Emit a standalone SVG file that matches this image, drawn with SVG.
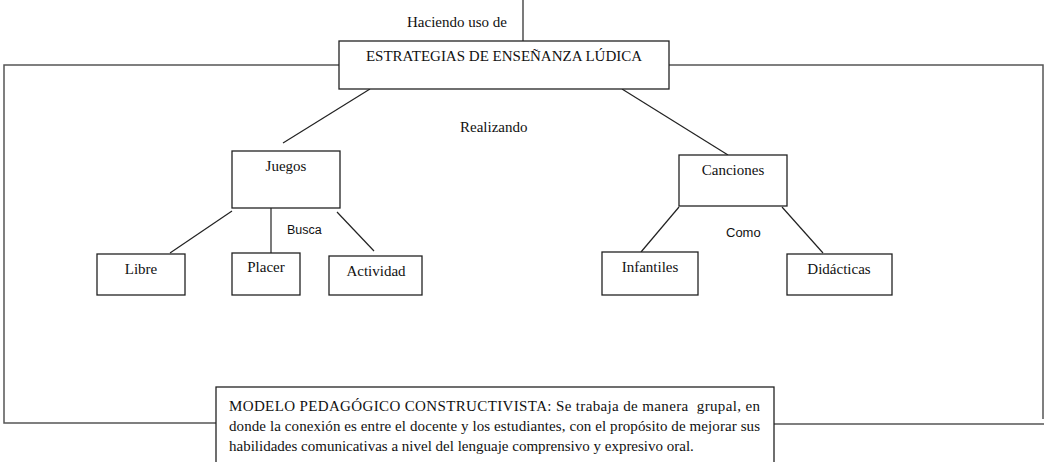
<svg xmlns="http://www.w3.org/2000/svg" width="1044" height="462" viewBox="0 0 1044 462">
<style>
.box{fill:#fff;stroke:#222;stroke-width:1.3}
.ln{stroke:#222;stroke-width:1.2;fill:none}
.outer{stroke:#555;stroke-width:1.5;fill:none}
.t{font-family:"Liberation Serif","Times New Roman",serif;font-size:15px;fill:#111}
.c{text-anchor:middle}
.s{font-family:"Liberation Sans",Arial,sans-serif;font-size:12.5px;fill:#111}
</style>
<rect width="1044" height="462" fill="#fff"/>
<g id="connectors">
<line class="ln" x1="523" y1="0" x2="523" y2="41"/>
<polyline class="outer" points="339,65 4,65 4,423 216,423"/>
<polyline class="outer" points="669,65 1043,65 1043,419"/>
<line class="outer" x1="774" y1="424" x2="1044" y2="424"/>
<line class="ln" x1="370" y1="89" x2="283" y2="143"/>
<line class="ln" x1="622" y1="89" x2="728" y2="155"/>
<line class="ln" x1="232" y1="211" x2="170" y2="253"/>
<line class="ln" x1="271" y1="208" x2="271" y2="256"/>
<line class="ln" x1="337" y1="212" x2="374" y2="251"/>
<line class="ln" x1="679" y1="207" x2="641" y2="252"/>
<line class="ln" x1="782" y1="207" x2="823" y2="253"/>
<text class="t" x="407" y="27">Haciendo uso de</text>
<text class="t" x="460" y="132">Realizando</text>
<text class="s" x="287" y="234">Busca</text>
<text class="s" x="726" y="237" style="font-size:13px">Como</text>
</g>
<g id="estrategias">
<rect class="box" x="339" y="41" width="330" height="48"/>
<text class="t c" x="504" y="61">ESTRATEGIAS DE ENSEÑANZA LÚDICA</text>
</g>
<g id="juegos">
<rect class="box" x="232" y="151" width="108" height="57"/>
<text class="t c" x="286" y="171">Juegos</text>
</g>
<g id="canciones">
<rect class="box" x="679" y="155" width="108" height="51"/>
<text class="t c" x="733" y="175">Canciones</text>
</g>
<g id="libre">
<rect class="box" x="97" y="254" width="88" height="41"/>
<text class="t c" x="141" y="274">Libre</text>
</g>
<g id="placer">
<rect class="box" x="232" y="253" width="68" height="42"/>
<text class="t c" x="266" y="272">Placer</text>
</g>
<g id="actividad">
<rect class="box" x="329" y="256" width="93" height="39"/>
<text class="t c" x="376" y="276">Actividad</text>
</g>
<g id="infantiles">
<rect class="box" x="602" y="252" width="96" height="43"/>
<text class="t c" x="650" y="272">Infantiles</text>
</g>
<g id="didacticas">
<rect class="box" x="787" y="254" width="105" height="41"/>
<text class="t c" x="839" y="274">Didácticas</text>
</g>
<g id="modelo">
<rect class="box" x="216" y="387" width="558" height="80"/>
<text class="t" x="229" y="411" textLength="531" lengthAdjust="spacing" style="white-space:pre">MODELO PEDAGÓGICO CONSTRUCTIVISTA: Se trabaja de manera  grupal, en</text>
<text class="t" x="229" y="431" textLength="531" lengthAdjust="spacing">donde la conexión es entre el docente y los estudiantes, con el propósito de mejorar sus</text>
<text class="t" x="229" y="451">habilidades comunicativas a nivel del lenguaje comprensivo y expresivo oral.</text>
</g>
</svg>
